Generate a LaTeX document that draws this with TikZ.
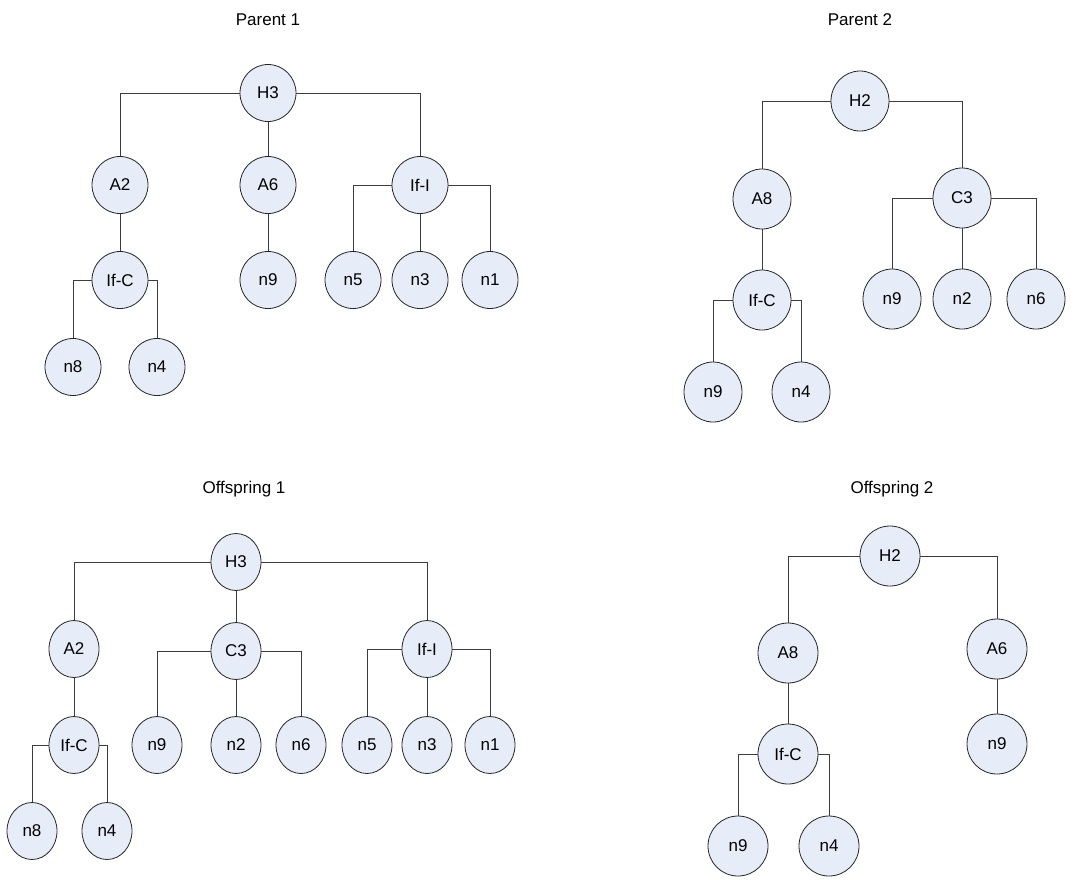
\documentclass[tikz,border=0pt]{standalone}
\usepackage{fontspec}
\setmainfont{Liberation Sans}
\usepackage{tikz}
\usetikzlibrary{shapes.geometric,positioning}

\definecolor{genefill}{RGB}{231,237,248}
\definecolor{linkgray}{RGB}{60,60,60}

\begin{document}
\begin{tikzpicture}[
  x=1pt, y=-1pt,
  on grid,
  every node/.style={font=\fontsize{17}{20}\selectfont},
  gene/.style={ellipse, draw=black!85, fill=genefill, line width=0.8pt, inner sep=0pt, minimum width=56pt, minimum height=57pt},
  link/.style={draw=linkgray, line width=0.8pt},
  title/.style={inner sep=0pt}
]
\useasboundingbox (0,0) rectangle (1084,879);

% Parent 1
\node[title] (p1t) at (268,20) {Parent 1};
\node[gene] (p1h3) at (268,93) {H3};
\node[gene, below left=92pt and 148pt of p1h3] (p1a2) {A2};
\node[gene, below=92pt of p1h3] (p1a6) {A6};
\node[gene, below right=92pt and 152pt of p1h3] (p1ifi) {If-I};
\node[gene, below=95pt of p1a2] (p1ifc) {If-C};
\node[gene, below=95pt of p1a6] (p1n9) {n9};
\node[gene, below left=95pt and 67pt of p1ifi] (p1n5) {n5};
\node[gene, below=95pt of p1ifi] (p1n3) {n3};
\node[gene, below right=95pt and 70pt of p1ifi] (p1n1) {n1};
\node[gene, below left=87pt and 47pt of p1ifc] (p1n8) {n8};
\node[gene, below right=87pt and 37pt of p1ifc] (p1n4) {n4};

\draw[link] (p1h3.west) -| (p1a2.north);
\draw[link] (p1h3) -- (p1a6);
\draw[link] (p1h3.east) -| (p1ifi.north);
\draw[link] (p1a2) -- (p1ifc);
\draw[link] (p1a6) -- (p1n9);
\draw[link] (p1ifi.west) -| (p1n5.north);
\draw[link] (p1ifi) -- (p1n3);
\draw[link] (p1ifi.east) -| (p1n1.north);
\draw[link] (p1ifc.west) -| (p1n8.north);
\draw[link] (p1ifc.east) -| (p1n4.north);

% Parent 2
\begin{scope}[gene/.append style={minimum width=58pt, minimum height=60pt}]
\node[title] (p2t) at (860,20) {Parent 2};
\node[gene] (p2h2) at (860,101) {H2};
\node[gene, below left=98pt and 98pt of p2h2] (p2a8) {A8};
\node[gene, below right=97pt and 102pt of p2h2] (p2c3) {C3};
\node[gene, below=101pt of p2a8] (p2ifc) {If-C};
\node[gene, below left=101pt and 70pt of p2c3] (p2n9) {n9};
\node[gene, below=101pt of p2c3] (p2n2) {n2};
\node[gene, below right=101pt and 74pt of p2c3] (p2n6) {n6};
\node[gene, below left=92pt and 49pt of p2ifc] (p2n9b) {n9};
\node[gene, below right=92pt and 39pt of p2ifc] (p2n4) {n4};
\end{scope}

\draw[link] (p2h2.west) -| (p2a8.north);
\draw[link] (p2h2.east) -| (p2c3.north);
\draw[link] (p2a8) -- (p2ifc);
\draw[link] (p2c3.west) -| (p2n9.north);
\draw[link] (p2c3) -- (p2n2);
\draw[link] (p2c3.east) -| (p2n6.north);
\draw[link] (p2ifc.west) -| (p2n9b.north);
\draw[link] (p2ifc.east) -| (p2n4.north);

% Offspring 1
\begin{scope}[gene/.append style={minimum width=50pt, minimum height=57pt}]
\node[title] (o1t) at (244,489) {Offspring 1};
\node[gene] (o1h3) at (236,562) {H3};
\node[gene, below left=87pt and 162pt of o1h3] (o1a2) {A2};
\node[gene, below=89pt of o1h3] (o1c3) {C3};
\node[gene, below right=87pt and 191pt of o1h3] (o1ifi) {If-I};
\node[gene, below=96pt of o1a2] (o1ifc) {If-C};
\node[gene, below left=94pt and 79pt of o1c3] (o1n9) {n9};
\node[gene, below=94pt of o1c3] (o1n2) {n2};
\node[gene, below right=94pt and 65pt of o1c3] (o1n6) {n6};
\node[gene, below left=96pt and 60pt of o1ifi] (o1n5) {n5};
\node[gene, below=96pt of o1ifi] (o1n3) {n3};
\node[gene, below right=96pt and 63pt of o1ifi] (o1n1) {n1};
\node[gene, below left=86pt and 42pt of o1ifc] (o1n8) {n8};
\node[gene, below right=86pt and 33pt of o1ifc] (o1n4) {n4};
\end{scope}

\draw[link] (o1h3.west) -| (o1a2.north);
\draw[link] (o1h3) -- (o1c3);
\draw[link] (o1h3.east) -| (o1ifi.north);
\draw[link] (o1a2) -- (o1ifc);
\draw[link] (o1c3.west) -| (o1n9.north);
\draw[link] (o1c3) -- (o1n2);
\draw[link] (o1c3.east) -| (o1n6.north);
\draw[link] (o1ifi.west) -| (o1n5.north);
\draw[link] (o1ifi) -- (o1n3);
\draw[link] (o1ifi.east) -| (o1n1.north);
\draw[link] (o1ifc.west) -| (o1n8.north);
\draw[link] (o1ifc.east) -| (o1n4.north);

% Offspring 2
\begin{scope}[gene/.append style={minimum width=60pt, minimum height=60pt}]
\node[title] (o2t) at (892,489) {Offspring 2};
\node[gene] (o2h2) at (890,556) {H2};
\node[gene, below left=97pt and 102pt of o2h2] (o2a8) {A8};
\node[gene, below right=93pt and 107pt of o2h2] (o2a6) {A6};
\node[gene, below=101pt of o2a8] (o2ifc) {If-C};
\node[gene, below=95pt of o2a6] (o2n9) {n9};
\node[gene, below left=92pt and 50pt of o2ifc] (o2n9b) {n9};
\node[gene, below right=92pt and 41pt of o2ifc] (o2n4) {n4};
\end{scope}

\draw[link] (o2h2.west) -| (o2a8.north);
\draw[link] (o2h2.east) -| (o2a6.north);
\draw[link] (o2a8) -- (o2ifc);
\draw[link] (o2a6) -- (o2n9);
\draw[link] (o2ifc.west) -| (o2n9b.north);
\draw[link] (o2ifc.east) -| (o2n4.north);
\end{tikzpicture}
\end{document}
